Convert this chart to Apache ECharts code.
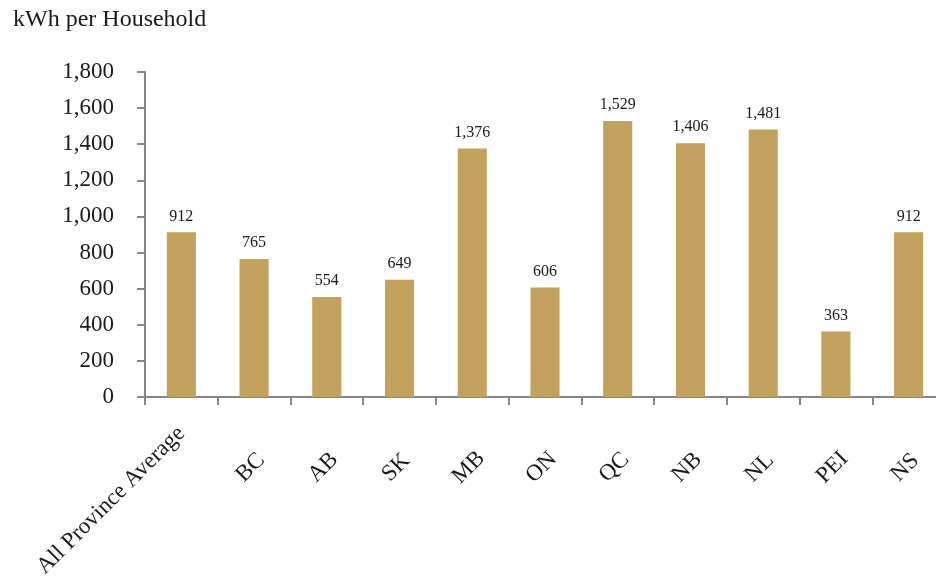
<!DOCTYPE html>
<html>
<head>
<meta charset="utf-8">
<script src="https://cdn.jsdelivr.net/npm/echarts@6/dist/echarts.min.js"></script>
<style>
  html, body { margin: 0; padding: 0; background: #fff; }
  #chart { width: 936px; height: 577px; }
</style>
</head>
<body>
<div id="chart"></div>
<script>
// Residential electricity use by province
const categories = ['All Province Average', 'BC', 'AB', 'SK', 'MB', 'ON', 'QC', 'NB', 'NL', 'PEI', 'NS'];
const kwhPerHousehold = [912, 765, 554, 649, 1376, 606, 1529, 1406, 1481, 363, 912];
const yTicks = [0, 200, 400, 600, 800, 1000, 1200, 1400, 1600, 1800];
const unitLabel = 'kWh per Household';

const FONT = "'Liberation Serif', 'DejaVu Serif', serif";
const AXIS_GREY = '#868686';
const BAR_GOLD = '#C1A15B';
const TEXT = '#1a1a1a';

const fmt = v => Number(v).toLocaleString('en-US');
const isLong = name => name.length > 6;

const labelFont = { fontFamily: FONT, fontSize: 23, color: TEXT };

const chart = echarts.init(document.getElementById('chart'), null, { renderer: 'canvas' });
chart.setOption({
  animation: false,
  backgroundColor: '#ffffff',
  title: {
    text: unitLabel,
    left: 8,
    top: 3,
    textStyle: { fontFamily: FONT, fontSize: 24, fontWeight: 'normal', color: TEXT }
  },
  // the plot runs slightly past the right edge of the canvas
  grid: { left: 145, width: 800, top: 72, height: 325, containLabel: false, outerBoundsMode: 'none' },
  xAxis: [
    {
      // main axis: line, ticks and the long label (anchored by its end)
      type: 'category',
      data: categories,
      position: 'bottom',
      boundaryGap: true,
      axisLine: { lineStyle: { color: AXIS_GREY, width: 2 } },
      axisTick: { show: true, length: 8, alignWithLabel: false, lineStyle: { color: AXIS_GREY, width: 2 } },
      axisLabel: Object.assign({
        interval: 0,
        rotate: 45,
        margin: 33,
        formatter: v => (isLong(v) ? v : '')
      }, labelFont)
    },
    {
      // short labels, centred on a common line below the axis
      type: 'category',
      data: categories,
      position: 'bottom',
      boundaryGap: true,
      axisLine: { show: false },
      axisTick: { show: false },
      axisLabel: Object.assign({
        interval: 0,
        rotate: 45,
        margin: 67,
        align: 'center',
        verticalAlign: 'middle',
        padding: [0, 10, 0, 0],
        formatter: v => (isLong(v) ? '' : v)
      }, labelFont)
    }
  ],
  yAxis: {
    type: 'value',
    min: yTicks[0],
    max: yTicks[yTicks.length - 1],
    interval: yTicks[1] - yTicks[0],
    splitLine: { show: false },
    axisLine: { show: true, lineStyle: { color: AXIS_GREY, width: 2 } },
    axisTick: { show: true, length: 8, lineStyle: { color: AXIS_GREY, width: 2 } },
    axisLabel: Object.assign({
      margin: 31,
      formatter: v => fmt(v)
    }, labelFont)
  },
  series: [{
    type: 'bar',
    xAxisIndex: 0,
    data: kwhPerHousehold,
    barWidth: '40%',
    itemStyle: { color: BAR_GOLD },
    label: {
      show: true,
      position: 'top',
      distance: 8,
      fontFamily: FONT,
      fontSize: 16,
      color: TEXT,
      formatter: p => fmt(p.value)
    }
  }]
});
</script>
</body>
</html>
